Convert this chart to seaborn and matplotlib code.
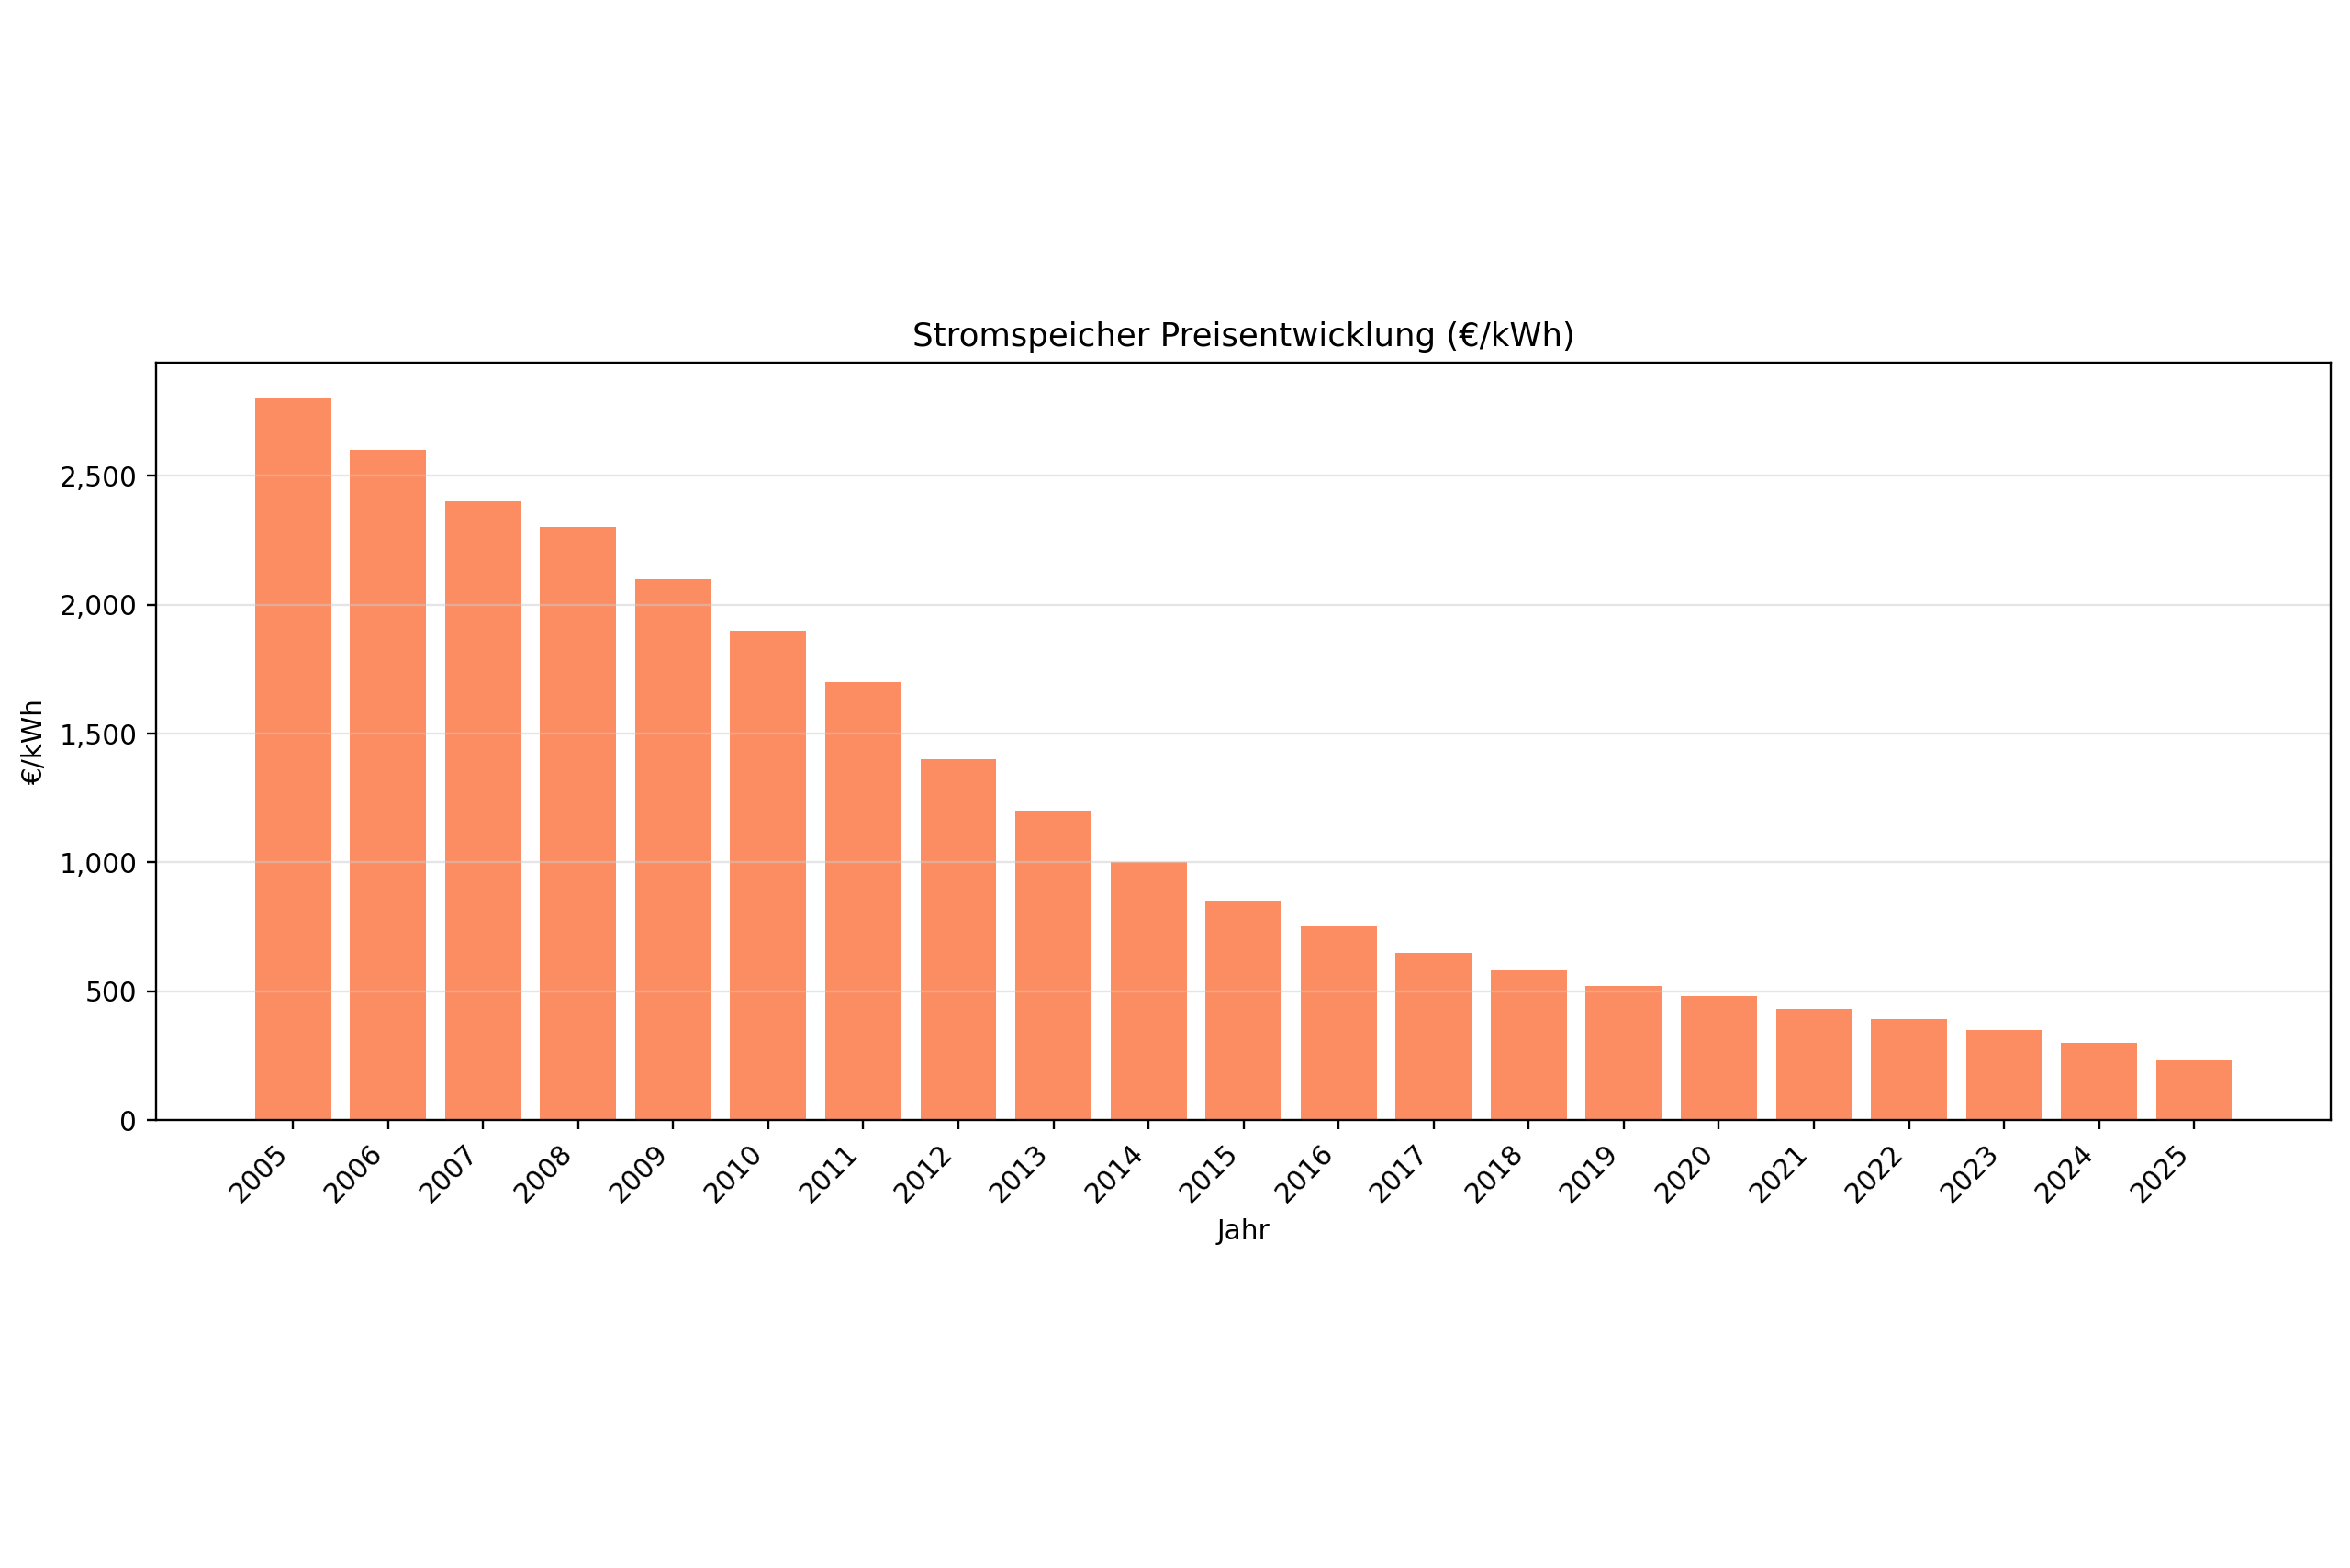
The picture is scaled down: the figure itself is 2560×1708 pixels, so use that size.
import pandas as pd
import seaborn as sns
from matplotlib import pyplot as plt
from matplotlib.ticker import FuncFormatter

# Daten
jahre = [2005, 2006, 2007, 2008, 2009, 2010, 2011, 2012, 2013, 2014, 2015,
         2016, 2017, 2018, 2019, 2020, 2021, 2022, 2023, 2024, 2025]
preise = [2800, 2600, 2400, 2300, 2100, 1900, 1700, 1400, 1200, 1000, 850,
          750, 650, 580, 520, 480, 430, 390, 350, 300, 230]

df = pd.DataFrame({"Jahr": jahre, "Preis": preise})

dpi = 2560 / 12
fig = plt.figure(figsize=(2560.3 / dpi, 1708.3 / dpi), dpi=dpi)
ax = fig.add_axes([0.0664, 0.2857, 0.9254, 0.4830])

sns.barplot(data=df, x="Jahr", y="Preis", native_scale=True, width=0.8,
            color="#fc8d62", saturation=1, ax=ax)

ax.set_xticks(jahre)
ax.set_xticklabels([str(j) for j in jahre], rotation=45, ha="right")
ax.margins(x=0.05, y=0.05)
ax.autoscale(axis="x")
ax.yaxis.set_major_formatter(FuncFormatter(lambda v, p: f"{v:,.0f}"))
ax.grid(axis="y", color="#cccccc", alpha=0.5, linewidth=0.8)

ax.set_title("Stromspeicher Preisentwicklung (€/kWh)", fontsize=12)
ax.set_xlabel("Jahr")
ax.set_ylabel("€/kWh")

fig.savefig("out.png", dpi=dpi)
